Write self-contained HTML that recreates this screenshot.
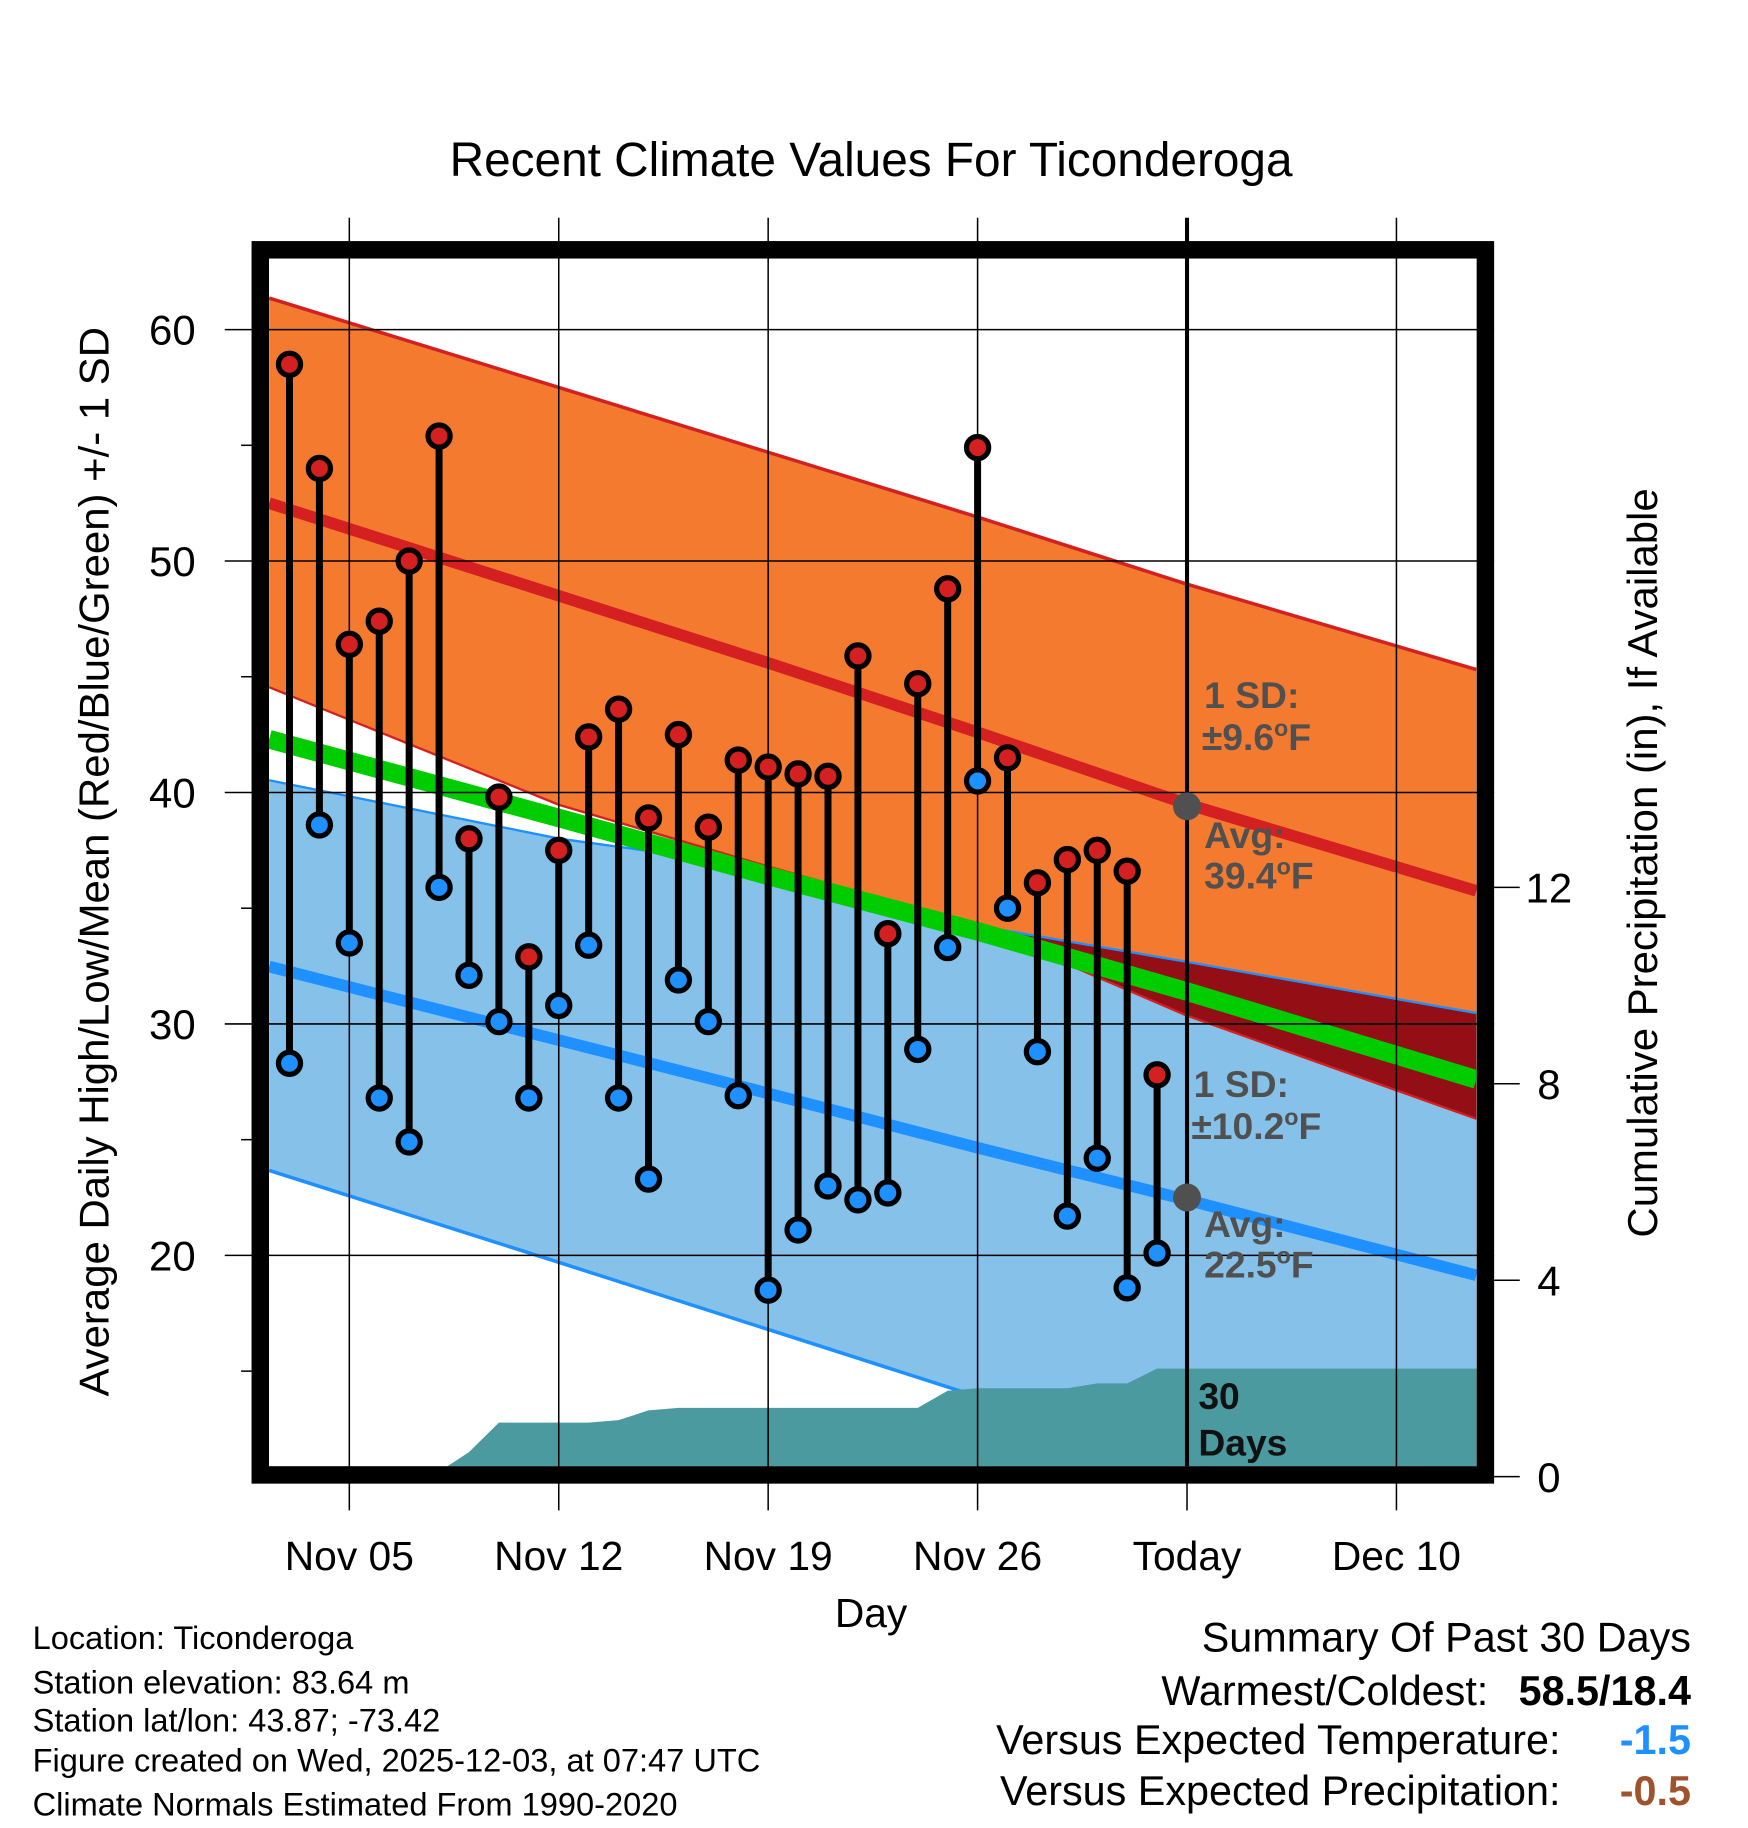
<!DOCTYPE html>
<html><head><meta charset="utf-8">
<style>
html,body{margin:0;padding:0;background:#fff;}
#wrap{width:1748px;height:1828px;overflow:hidden;position:relative;}
#stage{width:1501px;height:1570px;transform:scale(1.16456);transform-origin:0 0;position:absolute;left:0;top:0;}
svg text{font-family:"Liberation Sans",Arial,sans-serif;}
</style></head>
<body>
<div id="wrap">
<div id="stage">
<svg id="chart" width="1501" height="1570" viewBox="0 0 1501 1570">
<defs>
<clipPath id="plotclip"><rect x="231" y="222" width="1037" height="1037"/></clipPath>
<clipPath id="blueclip"><polygon id="bluepoly" points=""/></clipPath>
</defs>
<text x="748" y="151" font-size="41" text-anchor="middle">Recent Climate Values For Ticonderoga</text>
<g id="bands" clip-path="url(#plotclip)"></g>
<g id="gridin"></g>
<g id="marks" clip-path="url(#plotclip)"></g>
<g id="annot" font-size="32" font-weight="bold" fill="#505050">
<text x="1034" y="608">1 SD:</text>
<text x="1032" y="644">±9.6<tspan font-size="20" dy="-12">o</tspan><tspan dy="12">F</tspan></text>
<text x="1034" y="728">Avg:</text>
<text x="1034" y="763">39.4<tspan font-size="20" dy="-12">o</tspan><tspan dy="12">F</tspan></text>
<text x="1025" y="942">1 SD:</text>
<text x="1023" y="978">±10.2<tspan font-size="20" dy="-12">o</tspan><tspan dy="12">F</tspan></text>
<text x="1034" y="1062">Avg:</text>
<text x="1034" y="1097">22.5<tspan font-size="20" dy="-12">o</tspan><tspan dy="12">F</tspan></text>
<text x="1029" y="1210" font-size="32" fill="#111">30</text>
<text x="1029" y="1250" font-size="32" fill="#111">Days</text>
</g>
<rect x="223.5" y="214.5" width="1052" height="1052" fill="none" stroke="#000" stroke-width="15"/>
<g id="axes"></g>
<text x="748" y="1397" font-size="35" text-anchor="middle">Day</text>
<text transform="translate(93,740) rotate(-90)" font-size="36" text-anchor="middle">Average Daily High/Low/Mean (Red/Blue/Green) +/- 1 SD</text>
<text transform="translate(1423,741) rotate(-90)" font-size="36" text-anchor="middle">Cumulative Precipitation (in), If Available</text>
<g font-size="28">
<text x="28" y="1416">Location: Ticonderoga</text>
<text x="28" y="1454">Station elevation: 83.64 m</text>
<text x="28" y="1487">Station lat/lon: 43.87; -73.42</text>
<text x="28" y="1521">Figure created on Wed, 2025-12-03, at 07:47 UTC</text>
<text x="28" y="1559">Climate Normals Estimated From 1990-2020</text>
</g>
<g font-size="35.5">
<text x="1452" y="1418" text-anchor="end">Summary Of Past 30 Days</text>
<text x="1278" y="1464" text-anchor="end">Warmest/Coldest:</text>
<text x="1452" y="1464" text-anchor="end" font-weight="bold">58.5/18.4</text>
<text x="1340" y="1506" text-anchor="end">Versus Expected Temperature:</text>
<text x="1452" y="1506" text-anchor="end" font-weight="bold" fill="#1e90ff">-1.5</text>
<text x="1340" y="1550" text-anchor="end">Versus Expected Precipitation:</text>
<text x="1452" y="1550" text-anchor="end" font-weight="bold" fill="#a0522d">-0.5</text>
</g>
</svg>
</div></div>
<script>
// Data (day = day of November; Dec k = 30+k)
const days = [3,4,5,6,7,8,9,10,11,12,13,14,15,16,17,18,19,20,21,22,23,24,25,26,27,28,29,30,31,32];
const highs = [58.5,54.0,46.4,47.4,50.0,55.4,38.0,39.8,32.9,37.5,42.4,43.6,38.9,42.5,38.5,41.4,41.1,40.8,40.7,45.9,33.9,44.7,48.8,54.9,41.5,36.1,37.1,37.5,36.6,27.8];
const lows = [28.3,38.6,33.5,26.8,24.9,35.9,32.1,30.1,26.8,30.8,33.4,26.8,23.3,31.9,30.1,26.9,18.5,21.1,23.0,22.4,22.7,28.9,33.3,40.5,35.0,28.8,21.7,24.2,18.6,20.1];
const precip = [0,0,0.1,0.1,0.1,0.1,0.5,1.1,1.1,1.1,1.1,1.15,1.35,1.4,1.4,1.4,1.4,1.4,1.4,1.4,1.4,1.4,1.75,1.8,1.8,1.8,1.8,1.9,1.9,2.2];
// normals sampled at these days
const normDays = [2.32,12,19,26,33,42.67];
const highUpper = [61.36,57.5,54.7,51.9,49.0,45.31];
const highMean = [52.5,48.5,45.6,42.6,39.5,35.75];
const highLower = [44.55,39.47,36.8,34.24,30.36,25.9];
const lowUpper = [40.53,38.01,36.76,34.24,32.68,30.47];
const lowMean = [32.48,29.3,27.0,24.65,22.4,19.14];
const lowLower = [23.67,19.7,16.8,13.9,11.1,6.8];
const avgMean = [42.3,38.9,36.4,34.0,31.4,27.6];
const yTicks = [20,30,40,50,60];
const y2Ticks = [0,4,8,12];
const xTickDays = [5,12,19,26,33,40];
const xTickLabels = ["Nov 05","Nov 12","Nov 19","Nov 26","Today","Dec 10"];
const todayDay = 33;
const todayHighAvg = 39.4, todayLowAvg = 22.5;

const NS="http://www.w3.org/2000/svg";
function X(d){return 197.2+(d-1)*25.69;}
function Y(v){return 283+(60-v)*19.875;}
function Y2(p){return 1268-p*42.17;}
function mk(tag,attrs,parent){const e=document.createElementNS(NS,tag);for(const k in attrs)e.setAttribute(k,attrs[k]);parent.appendChild(e);return e;}
const bands=document.getElementById('bands'),gridin=document.getElementById('gridin'),marks=document.getElementById('marks'),axes=document.getElementById('axes');
function ptsArr(a){return normDays.map((d,i)=>[X(d),Y(a[i])]);}
function pts(a,b){return ptsArr(a).concat(ptsArr(b).reverse()).map(p=>p.join(',')).join(' ');}
function pl(a){return ptsArr(a).map(p=>p.join(',')).join(' ');}

document.getElementById('bluepoly').setAttribute('points',pts(lowUpper,lowLower));
let e;
e=mk('polygon',{points:pts(lowUpper,lowLower),fill:'#85c1e9'},bands);


e=mk('polygon',{points:pts(highUpper,highLower),fill:'#f47a30'},bands);


e=mk('polygon',{points:pts(highUpper,highLower),fill:'#930f15','clip-path':'url(#blueclip)'},bands);


e=mk('polyline',{points:pl(highUpper),fill:'none',stroke:'#d42020','stroke-width':3},bands);


e=mk('polyline',{points:pl(highLower),fill:'none',stroke:'#d42020','stroke-width':2},bands);


e=mk('polyline',{points:pl(lowUpper),fill:'none',stroke:'#1e90ff','stroke-width':2},bands);


e=mk('polyline',{points:pl(lowLower),fill:'none',stroke:'#1e90ff','stroke-width':3},bands);


e=mk('polyline',{points:pl(avgMean),fill:'none',stroke:'#00cc00','stroke-width':16},bands);


e=mk('polyline',{points:pl(highMean),fill:'none',stroke:'#d42020','stroke-width':10},bands);


e=mk('polyline',{points:pl(lowMean),fill:'none',stroke:'#1e90ff','stroke-width':10},bands);


let pp=[[231,Y2(0)]];
for(let i=0;i<days.length;i++){pp.push([X(days[i]),Y2(precip[i])]);}
pp.push([1268,Y2(precip[precip.length-1])]);pp.push([1268,Y2(0)]);
e=mk('polygon',{points:pp.map(p=>p.join(',')).join(' '),fill:'#4a9aa0'},bands);



yTicks.forEach(v=>{
  e=mk('line',{x1:193,x2:1283,y1:Y(v),y2:Y(v),stroke:'#000','stroke-width':1.3},gridin);
  
  
  e=mk('text',{x:168,y:Y(v)+13,'font-size':36,'text-anchor':'end'},axes);
  e.textContent=v;
  
  
});
[15,25,35,45,55].forEach(v=>{
  e=mk('line',{x1:207,x2:216,y1:Y(v),y2:Y(v),stroke:'#000','stroke-width':1.3},axes);
  
  
});
xTickDays.forEach((d,i)=>{
  const isToday=d===todayDay;
  e=mk('line',{x1:X(d),x2:X(d),y1:187,y2:isToday?1259:1297,stroke:'#000','stroke-width':isToday?3.5:1.3},gridin);
  
  
  if(isToday){e=mk('line',{x1:X(d),x2:X(d),y1:1259,y2:1297,stroke:'#000','stroke-width':1.3},axes);
    
    }
  e=mk('text',{x:X(d),y:1348,'font-size':35,'text-anchor':'middle'},axes);
  e.textContent=xTickLabels[i];
  
  
});
y2Ticks.forEach(p=>{
  e=mk('line',{x1:1283,x2:1305,y1:Y2(p),y2:Y2(p),stroke:'#000','stroke-width':1.3},axes);
  
  
  e=mk('text',{x:1330,y:Y2(p)+13,'font-size':36,'text-anchor':'middle'},axes);
  e.textContent=p;
  
  
});

days.forEach((d,i)=>{
  e=mk('line',{x1:X(d),x2:X(d),y1:Y(highs[i]),y2:Y(lows[i]),stroke:'#000','stroke-width':6},marks);
  
  
});
days.forEach((d,i)=>{
  e=mk('circle',{cx:X(d),cy:Y(highs[i]),r:9.5,fill:'#d42020',stroke:'#000','stroke-width':4.5},marks);
  
  
  e=mk('circle',{cx:X(d),cy:Y(lows[i]),r:9.5,fill:'#1e90ff',stroke:'#000','stroke-width':4.5},marks);
  
  
});
e=mk('circle',{cx:X(todayDay),cy:Y(todayHighAvg),r:12,fill:'#505050'},marks);


e=mk('circle',{cx:X(todayDay),cy:Y(todayLowAvg),r:12,fill:'#505050'},marks);


</script>
</body></html>
